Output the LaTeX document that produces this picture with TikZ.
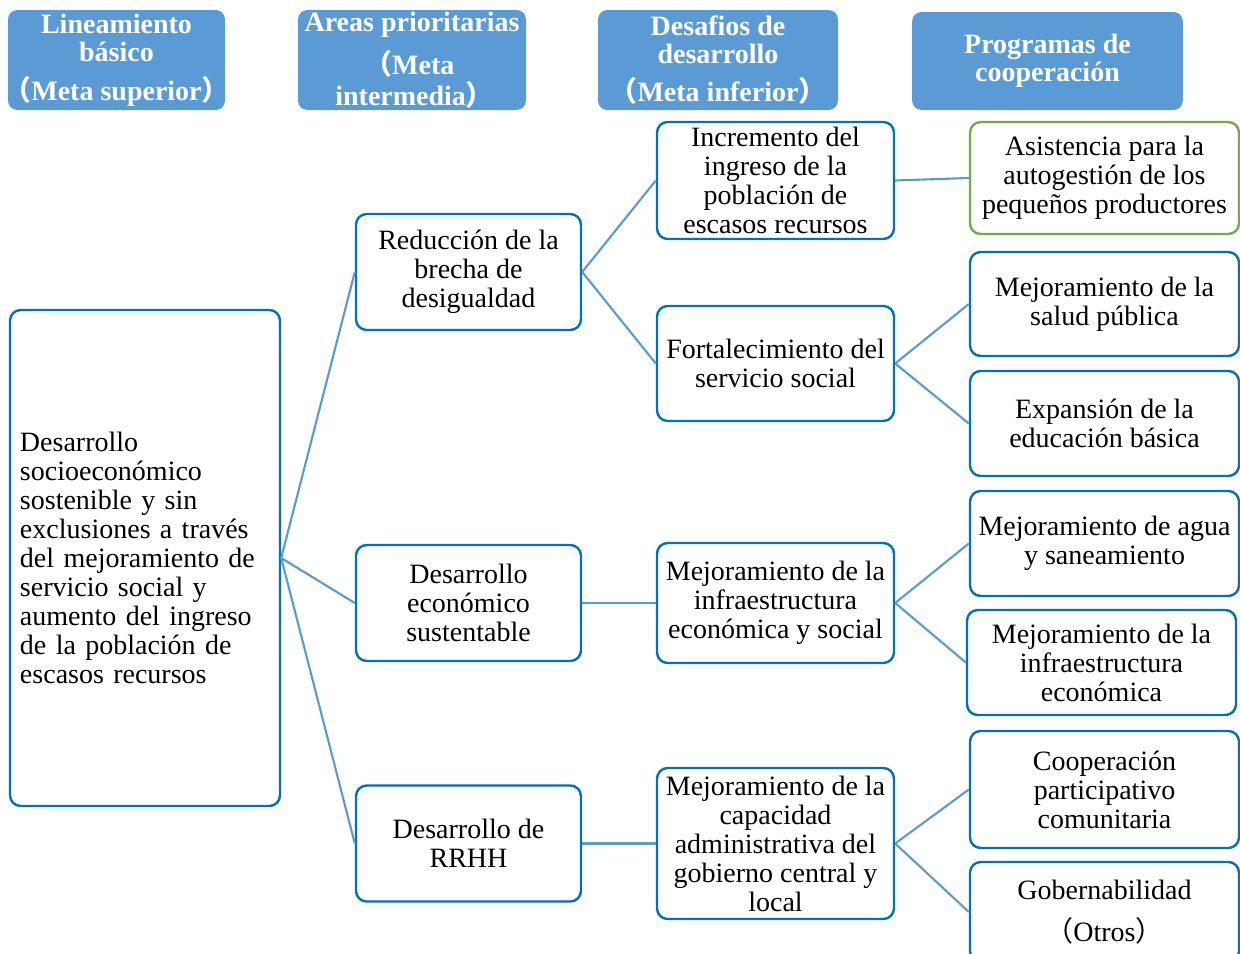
\documentclass[tikz,border=0pt]{standalone}
\usepackage{fontspec}
\setmainfont{Liberation Serif}
\newfontfamily\cjk{Noto Sans CJK SC}
\newcommand{\lpar}{\kern-4pt{\cjk （}}
\newcommand{\rpar}{{\cjk ）}\kern-4pt}
\definecolor{headblue}{RGB}{91,155,213}
\definecolor{boxblue}{RGB}{0,112,192}
\definecolor{boxgreen}{RGB}{112,173,71}
\tikzset{
	head/.style={rounded corners=7pt, fill=headblue, text=white, align=center, inner sep=0pt,
		font=\bfseries\fontsize{21}{21}\selectfont},
	box/.style={rounded corners=8pt, draw=boxblue, line width=1.8pt, fill=white, align=center, inner sep=2pt,
		minimum width=177.75pt, font=\fontsize{21}{21.75}\selectfont},
	areabox/.style={box, minimum width=168.75pt, minimum height=87pt},
	progbox/.style={box, minimum width=201.75pt},
	link/.style={draw=headblue, line width=1.6pt},
}
\begin{document}
\begin{tikzpicture}[x=0.75pt, y=-0.75pt]
	\useasboundingbox (0,0) rectangle (1240,954);
	% headers
	\node[head, minimum width=162.75pt, minimum height=75pt] (h1) at (116.5,60) {Lineamiento\\básico\\[8pt]\lpar Meta superior\rpar};
	\node[head, minimum width=171pt, minimum height=75pt] (h2) at (412,60) {Areas prioritarias\\[9pt]\lpar Meta\\[2pt]intermedia\rpar};
	\node[head, minimum width=180pt, minimum height=75pt] (h3) at (718,60) {Desafios de\\desarrollo\\[8pt]\lpar Meta inferior\rpar};
	\node[head, minimum width=203pt, minimum height=73.5pt] (h4) at (1047.5,61) {Programas de\\cooperación};
	% lineamiento
	\node[box, minimum width=202.5pt, minimum height=372pt, text width=187.5pt, align=left, inner xsep=7.5pt] (main) at (145,558)
		{Desarrollo\\socioeconómico\\sostenible y sin\\exclusiones a través\\del mejoramiento de\\servicio social y\\aumento del ingreso\\de la población de\\escasos recursos};
	% areas
	\node[areabox] (a1) at (468.5,272) {Reducción de la\\brecha de\\desigualdad};
	\node[areabox] (a2) at (468.5,603) {Desarrollo\\económico\\sustentable};
	\node[areabox] (a3) at (468.5,843.5) {Desarrollo de\\RRHH};
	% desafios
	\node[box, minimum height=87.75pt] (d1) at (775.5,180.5) {Incremento del\\ingreso de la\\población de\\escasos recursos};
	\node[box, minimum height=86.25pt] (d2) at (775.5,363.5) {Fortalecimiento del\\servicio social};
	\node[box, minimum height=90pt] (d3) at (775.5,603) {Mejoramiento de la\\infraestructura\\económica y social};
	\node[box, minimum height=113.25pt] (d4) at (775.5,843.5) {Mejoramiento de la\\capacidad\\administrativa del\\gobierno central y\\local};
	% programas
	\node[progbox, draw=boxgreen, minimum height=84pt] (p1) at (1104.5,178) {Asistencia para la\\autogestión de los\\pequeños productores};
	\node[progbox, minimum height=78pt] (p2) at (1104.5,304) {Mejoramiento de la\\salud pública};
	\node[progbox, minimum height=78.75pt] (p3) at (1104.5,423.5) {Expansión de la\\educación básica};
	\node[progbox, minimum height=78.75pt] (p4) at (1104.5,543.5) {Mejoramiento de agua\\y saneamiento};
	\node[progbox, minimum height=78.75pt] (p5) at (1101.5,662.5) {Mejoramiento de la\\infraestructura\\económica};
	\node[progbox, minimum height=87.75pt] (p6) at (1104.5,789.5) {Cooperación\\participativo\\comunitaria};
	\node[progbox, minimum height=75pt] (p7) at (1104.5,912) {Gobernabilidad\\[10pt]\lpar Otros\rpar};
	% connectors
	\foreach \a in {a1,a2,a3} \draw[link] (main.east) -- (\a.west);
	\draw[link] (a1.east) -- (d1.west);
	\draw[link] (a1.east) -- (d2.west);
	\draw[link] (a2.east) -- (d3.west);
	\draw[link] (a3.east) -- (d4.west);
	\draw[link] (d1.east) -- (p1.west);
	\draw[link] (d2.east) -- (p2.west);
	\draw[link] (d2.east) -- (p3.west);
	\draw[link] (d3.east) -- (p4.west);
	\draw[link] (d3.east) -- (p5.west);
	\draw[link] (d4.east) -- (p6.west);
	\draw[link] (d4.east) -- (p7.west);
\end{tikzpicture}
\end{document}
